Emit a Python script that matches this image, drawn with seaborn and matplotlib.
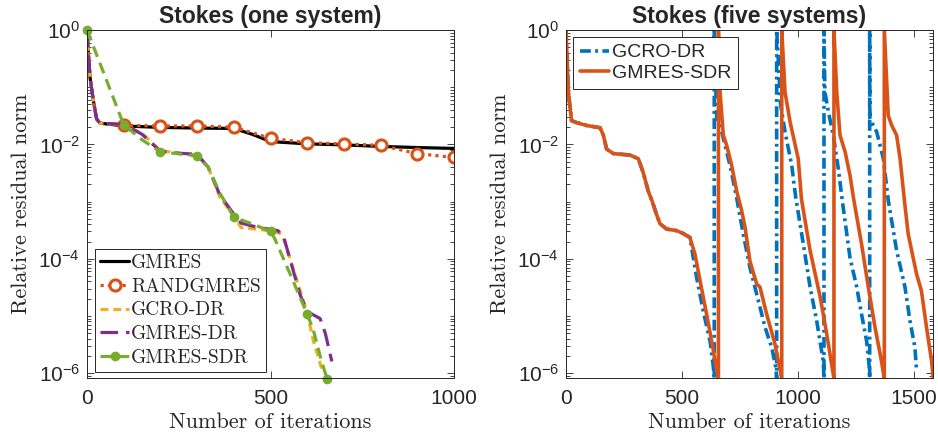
import numpy as np
import seaborn as sns
import matplotlib.pyplot as plt
from matplotlib.ticker import LogLocator, NullFormatter

# ---- left panel: Stokes (one system) ----
gmres_it = [0, 3, 8, 17, 26, 35, 100, 200, 300, 400, 450, 500, 600, 700, 800, 900, 1000]
gmres_res = [1.0, 0.45, 0.15, 0.059, 0.028, 0.0235, 0.021, 0.0198, 0.0193, 0.019, 0.015,
             0.0112, 0.0102, 0.0098, 0.0092, 0.0088, 0.0085]

rand_it = [0, 3, 8, 17, 26, 35, 100, 200, 300, 400, 500, 600, 700, 800, 900, 1000]
rand_res = [1.0, 0.45, 0.15, 0.059, 0.028, 0.0235, 0.0215, 0.021, 0.021, 0.020, 0.0128,
            0.0107, 0.0102, 0.0096, 0.0069, 0.0059]

gcro_it = [0, 3, 8, 17, 26, 35, 100, 150, 200, 250, 300, 330, 362, 400, 420, 480, 525,
           535, 572, 599, 617, 641]
gcro_res = [1.0, 0.45, 0.15, 0.059, 0.028, 0.0235, 0.022, 0.0155, 0.0078, 0.007, 0.0065,
            0.004, 0.0012, 5.5e-4, 3.5e-4, 3.2e-4, 2.8e-4, 2.3e-4, 4.1e-5, 1.2e-5, 3.6e-6, 1.1e-6]

gdr_it = [0, 3, 8, 17, 26, 35, 100, 150, 200, 250, 300, 330, 362, 400, 420, 460, 520,
          535, 580, 599, 635, 649, 667]
gdr_res = [1.0, 0.45, 0.15, 0.059, 0.028, 0.0235, 0.0225, 0.015, 0.0075, 0.007, 0.0067,
           0.004, 0.0013, 6e-4, 4.2e-4, 3.6e-4, 3.1e-4, 2.5e-4, 2.4e-5, 1.2e-5, 9e-6, 5e-6, 1.6e-6]

sdr_it = [0, 100, 150, 200, 300, 330, 362, 400, 453, 500, 512, 562, 600, 617, 639, 654]
sdr_res = [1.0, 0.022, 0.012, 0.0074, 0.0063, 0.004, 0.0014, 5.3e-4, 4e-4, 3.0e-4, 2.2e-4,
           4e-5, 1.07e-5, 5.5e-6, 1.6e-6, 8e-7]

# ---- right panel: Stokes (five systems) ----
gcro5_it = [0, 10, 24, 46, 89, 147, 161, 175, 204, 276, 312, 333, 355, 372, 390, 405, 434,
            477, 506, 534, 563, 592, 621, 635, 639,
            639, 643, 650, 671, 707, 735, 764, 793, 822, 858, 887, 905, 908,
            908, 915, 925, 944, 973, 990, 1023, 1052, 1081, 1109, 1112,
            1112, 1116, 1131, 1152, 1174, 1190, 1224, 1253, 1274, 1296, 1307, 1309,
            1309, 1310, 1339, 1368, 1389, 1425, 1461, 1483, 1504, 1511]
gcro5_res = [1.0, 0.083, 0.026, 0.024, 0.0214, 0.0195, 0.0145, 0.0083, 0.0069, 0.0065, 0.0056,
             0.0032, 0.0015, 1e-3, 6e-4, 4.1e-4, 3.3e-4, 3.1e-4, 2.75e-4, 2.35e-4, 4.7e-5,
             1.2e-5, 3.6e-6, 1.3e-6, 8e-7,
             1.0, 0.2, 0.028, 0.0166, 0.0043, 1.2e-3, 2.7e-4, 7e-5, 2.4e-5, 6.3e-6, 2.8e-6,
             1.2e-6, 8e-7,
             1.0, 0.3, 0.05, 0.0166, 0.0043, 1.2e-3, 1.8e-4, 3.2e-5, 8e-6, 1.6e-6, 8e-7,
             1.0, 0.083, 0.037, 0.0145, 0.0037, 1.1e-3, 1.05e-4, 3.2e-5, 1.07e-5, 3.6e-6,
             1.3e-6, 8e-7,
             1.0, 0.028, 0.0166, 0.0056, 1.05e-3, 1.4e-4, 3.2e-5, 8e-6, 2.8e-6, 1.1e-6]

sdr5_it = [0, 10, 24, 46, 89, 147, 161, 175, 204, 276, 312, 333, 355, 372, 390, 405, 434,
           477, 506, 534, 556, 578, 606, 628, 650, 657,
           657, 664, 678, 693, 714, 736, 757, 772, 793, 822, 836, 865, 901, 930,
           930, 944, 966, 1001, 1015, 1052, 1095, 1124, 1152, 1155,
           1155, 1167, 1181, 1203, 1224, 1240, 1274, 1303, 1332, 1360, 1372,
           1372, 1389, 1404, 1425, 1440, 1458, 1475, 1511, 1532, 1554, 1576, 1583]
sdr5_res = [1.0, 0.083, 0.026, 0.024, 0.0214, 0.0195, 0.0145, 0.0083, 0.0069, 0.0065, 0.0056,
            0.0032, 0.0015, 1e-3, 6e-4, 4.1e-4, 3.3e-4, 3.1e-4, 2.75e-4, 2.35e-4, 1.2e-4,
            4.1e-5, 1.07e-5, 3.6e-6, 1.1e-6, 7.8e-7,
            1.0, 0.083, 0.0145, 0.0095, 0.0043, 1.5e-3, 7e-4, 3.5e-4, 9e-5, 3.6e-5, 3.2e-5,
            1.07e-5, 3.2e-6, 8e-7,
            1.0, 0.083, 0.0245, 0.0056, 1.1e-3, 1.4e-4, 2.2e-5, 4.8e-6, 9.5e-7, 8e-7,
            1.0, 0.083, 0.0145, 0.0074, 0.0029, 1.1e-3, 1.8e-4, 3.2e-5, 6.3e-6, 1.6e-6, 8e-7,
            1.0, 0.032, 0.0214, 0.0145, 0.0056, 1.1e-3, 2.7e-4, 5.4e-5, 2.75e-5, 6.3e-6,
            1.6e-6, 8e-7]

BLUE, ORANGE, YELLOW = "#0072BD", "#D95319", "#EDB120"
PURPLE, GREEN, DARK = "#7E2F8E", "#77AC30", "#262626"

sns.set_style("ticks")
plt.rcParams["font.family"] = ["Liberation Sans", "DejaVu Sans"]
plt.rcParams["mathtext.fontset"] = "custom"
plt.rcParams["mathtext.rm"] = "Liberation Sans"
plt.rcParams["mathtext.it"] = "Liberation Sans:italic"
plt.rcParams["mathtext.bf"] = "Liberation Sans:bold"

fig = plt.figure(figsize=(9.38, 4.37), dpi=100)
ax1 = fig.add_axes([0.0928, 0.135, 0.3913, 0.7963])
ax2 = fig.add_axes([0.6034, 0.135, 0.3913, 0.7963])

common = dict(estimator=None, sort=False)

# left panel curves
sns.lineplot(x=gmres_it, y=gmres_res, ax=ax1, color="black", linewidth=2.3,
             label="GMRES", **common)
sns.lineplot(x=rand_it, y=rand_res, ax=ax1, color=ORANGE, linewidth=2.3,
             linestyle=(0, (1, 1.3)), marker="o", markersize=8, markeredgewidth=2.2,
             markerfacecolor="white", markeredgecolor=ORANGE,
             markevery=list(range(6, len(rand_it))), label="RANDGMRES", **common)
sns.lineplot(x=gcro_it, y=gcro_res, ax=ax1, color=YELLOW, linewidth=2.3,
             linestyle=(0, (2.5, 1.5)), label="GCRO-DR", **common)
sns.lineplot(x=gdr_it, y=gdr_res, ax=ax1, color=PURPLE, linewidth=2.3,
             linestyle=(0, (5.5, 2.5)), label="GMRES-DR", **common)
sdr_marks = [i for i, v in enumerate(sdr_it) if v % 100 == 0 or i == len(sdr_it) - 1]
sns.lineplot(x=sdr_it, y=sdr_res, ax=ax1, color=GREEN, linewidth=2.3,
             linestyle=(0, (3.5, 2)), marker="o", markersize=7, markeredgewidth=0,
             markevery=sdr_marks, clip_on=False, label="GMRES-SDR", **common)

# right panel curves
sns.lineplot(x=gcro5_it, y=gcro5_res, ax=ax2, color=BLUE, linewidth=2.6,
             linestyle=(0, (3, 1.2, 0.8, 1.2)), label="GCRO-DR", **common)
sns.lineplot(x=sdr5_it, y=sdr5_res, ax=ax2, color=ORANGE, linewidth=2.6,
             label="GMRES-SDR", **common)

for ax, xmax, xt in [(ax1, 1000, [0, 500, 1000]), (ax2, 1582, [0, 500, 1000, 1500])]:
    ax.set_yscale("log")
    ax.set_ylim(8.2e-7, 1)
    ax.set_xlim(0, xmax)
    ax.set_xticks(xt)
    ax.set_yticks([1e-6, 1e-4, 1e-2, 1])
    ax.yaxis.set_minor_locator(LogLocator(base=10, subs=np.arange(1, 10), numticks=30))
    ax.yaxis.set_minor_formatter(NullFormatter())
    ax.tick_params(which="both", direction="in", top=True, right=True,
                   color=DARK, width=0.6, labelcolor=DARK)
    ax.tick_params(which="major", length=5, labelsize=15)
    ax.tick_params(axis="x", which="major", pad=8)
    ax.tick_params(axis="y", which="major", pad=5)
    ax.tick_params(which="minor", length=3)
    for s in ax.spines.values():
        s.set_color(DARK)
        s.set_linewidth(0.7)
    ax.set_xlabel("Number of iterations", fontfamily="cmr10", fontsize=16, labelpad=3)
    ax.set_ylabel("Relative residual norm", fontfamily="cmr10", fontsize=16, labelpad=5)

ax1.set_title("Stokes (one system)", fontsize=16.5, fontweight="bold", pad=5)
ax2.set_title("Stokes (five systems)", fontsize=16.5, fontweight="bold", pad=5)

leg1 = ax1.legend(loc="lower left", bbox_to_anchor=(0.022, 0.018),
                  prop={"family": "cmr10", "size": 14}, frameon=True, fancybox=False,
                  edgecolor=DARK, framealpha=1, handlelength=1.5, handletextpad=0.1,
                  labelspacing=0.3, borderpad=0.25, borderaxespad=0)
leg1.get_frame().set_linewidth(0.7)
leg2 = ax2.legend(loc="upper left", bbox_to_anchor=(0.019, 0.98),
                  prop={"size": 14}, frameon=True, fancybox=False,
                  edgecolor=DARK, framealpha=1, handlelength=1.5, handletextpad=0.15,
                  labelspacing=0.15, borderpad=0.35, borderaxespad=0)
leg2.get_frame().set_linewidth(0.7)

fig.savefig("out.png", dpi=100)
